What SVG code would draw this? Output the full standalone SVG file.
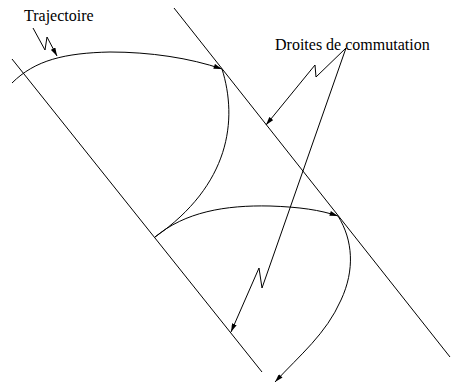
<svg xmlns="http://www.w3.org/2000/svg" width="452" height="384" viewBox="0 0 452 384">
<style>
.ln{fill:none;stroke:#000;stroke-width:1}
.lbl{font-size:16px;fill:#000}
</style>
<defs>
<marker id="ah" viewBox="0 0 10 6" markerWidth="9" markerHeight="5" markerUnits="userSpaceOnUse" refX="10" refY="3" orient="auto">
<path d="M0,0 L10,3 L0,6 z" fill="#000"/>
</marker>
</defs>
<rect width="452" height="384" fill="#fff"/>
<g id="droite-gauche"><line class="ln" x1="12" y1="59" x2="262" y2="372"/></g>
<g id="droite-droite"><line class="ln" x1="174" y1="8" x2="450" y2="357"/></g>
<g id="label-trajectoire"><text class="lbl" font-family="'Liberation Serif', 'Times New Roman', serif" x="24" y="21">Trajectoire</text></g>
<g id="label-droites"><text class="lbl" font-family="'Liberation Serif', 'Times New Roman', serif" x="275" y="50">Droites de commutation</text></g>
<g id="connectors">
<path class="ln" d="M12,83 C35,60 65,53 110,52 C150,52 190,58 222,69" marker-end="url(#ah)"/>
<path class="ln" d="M222,69 C238,120 230,185 155,237"/>
<path class="ln" d="M155,237 C185,212 225,205 270,206 C300,207 320,210 338,216" marker-end="url(#ah)"/>
<path class="ln" d="M338,216 C353,240 355,270 341,300 C326,334 300,355 275,382" marker-end="url(#ah)"/>
<polyline class="ln" points="33,28 45,50 47,37 57,56" marker-end="url(#ah)"/>
<polyline class="ln" points="346,48 316,77 315,65 266,125" marker-end="url(#ah)"/>
<polyline class="ln" points="346,48 262,288 259,268 231,332" marker-end="url(#ah)"/>
</g>
</svg>
